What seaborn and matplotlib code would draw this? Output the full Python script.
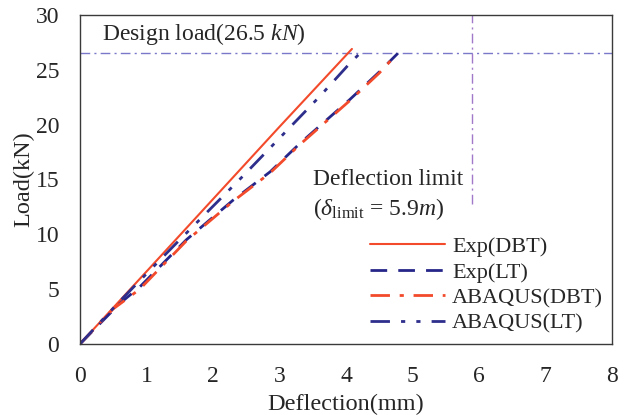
import matplotlib
matplotlib.use("Agg")
import matplotlib.pyplot as plt
import seaborn as sns
import pandas as pd

# Data
exp_dbt_x = [0.0, 1.0, 2.0, 3.0, 4.09]
exp_dbt_y = [0.0, 6.6, 13.2, 19.8, 26.9]

exp_lt_x = [0.0, 0.6, 0.9, 1.6, 2.3, 2.86, 3.31, 4.06, 4.5, 4.78]
exp_lt_y = [0.0, 3.7, 5.2, 9.5, 13.1, 15.7, 18.3, 22.3, 24.8, 26.5]

aba_dbt_x = [0.0, 0.5, 0.9, 1.6, 2.3, 2.86, 3.31, 4.06, 4.5, 4.76]
aba_dbt_y = [0.0, 3.2, 5.0, 9.4, 13.0, 15.6, 18.2, 22.2, 24.7, 26.4]

aba_lt_x = [0.0, 0.6, 1.0, 1.5, 2.45, 3.61, 4.06, 4.21]
aba_lt_y = [0.0, 3.9, 6.4, 9.5, 15.3, 22.6, 25.6, 26.5]

design_load = 26.5
deflection_limit = 5.9
limit_line_bottom = 12.8

x_ticks = [0, 1, 2, 3, 4, 5, 6, 7, 8]
y_ticks = [0, 5, 10, 15, 20, 25, 30]

sns.set_style("white")
plt.rcParams['font.family'] = ['Liberation Serif', 'DejaVu Serif']
plt.rcParams['mathtext.fontset'] = 'custom'
plt.rcParams['mathtext.rm'] = 'Liberation Serif'
plt.rcParams['mathtext.it'] = 'Liberation Serif:italic'

fig = plt.figure(figsize=(6.29, 4.15), dpi=100)
ax = fig.add_axes([0.127, 0.171, 0.846, 0.793])

series = [
    ("Exp(DBT)", exp_dbt_x, exp_dbt_y, "#f24a2a", "-", 1.5),
    ("Exp(LT)", exp_lt_x, exp_lt_y, "#26268a", (0, (6, 4)), 2.0),
    ("ABAQUS(DBT)", aba_dbt_x, aba_dbt_y, "#f24a2a", (0, (7, 3.5, 1.5, 3.5)), 2.0),
    ("ABAQUS(LT)", aba_lt_x, aba_lt_y, "#2e2e8c", (0, (7, 4, 1.5, 4, 1.5, 4)), 2.0),
]
for name, xs, ys, c, ls, lw in series:
    df = pd.DataFrame({"x": xs, "y": ys})
    sns.lineplot(data=df, x="x", y="y", ax=ax, color=c, linestyle=ls,
                 linewidth=lw, label=name, sort=False, estimator=None)

ax.axhline(design_load, color="#7a78c8", linestyle=(0, (7, 3, 1.5, 3)), linewidth=1.0, zorder=0)
ax.plot([deflection_limit, deflection_limit], [limit_line_bottom, 30],
        color="#a07ac8", linestyle=(0, (7, 3, 1.5, 3)), linewidth=1.0, zorder=0)

ax.text(0.33, 28.3, "Design load(26.5 $kN$)", fontsize=17, ha="left", va="center")
ax.text(3.5, 15.0, "Deflection limit", fontsize=17, ha="left", va="center")
ax.text(3.5, 12.3, r"($\delta_{\mathrm{limit}}$ = 5.9$m$)", fontsize=17, ha="left", va="center")

ax.set_xlim(0, 8)
ax.set_ylim(0, 30)
ax.set_xticks(x_ticks)
ax.set_yticks(y_ticks)
ax.tick_params(axis="both", length=0, labelsize=17)
ax.tick_params(axis="x", pad=16)
ax.tick_params(axis="y", pad=15)
ax.set_xlabel("Deflection(mm)", fontsize=17.5, labelpad=5)
ax.set_ylabel("Load(kN)", fontsize=17.5, labelpad=1)
for s in ax.spines.values():
    s.set_color("#3a3a3a")
    s.set_linewidth(1.0)

leg = ax.legend(loc="lower right", bbox_to_anchor=(1.0, 0.005), frameon=False,
                fontsize=16, handlelength=3.4, handletextpad=0.3,
                labelspacing=0.22, borderaxespad=0)

fig.savefig("out.png", dpi=100)
